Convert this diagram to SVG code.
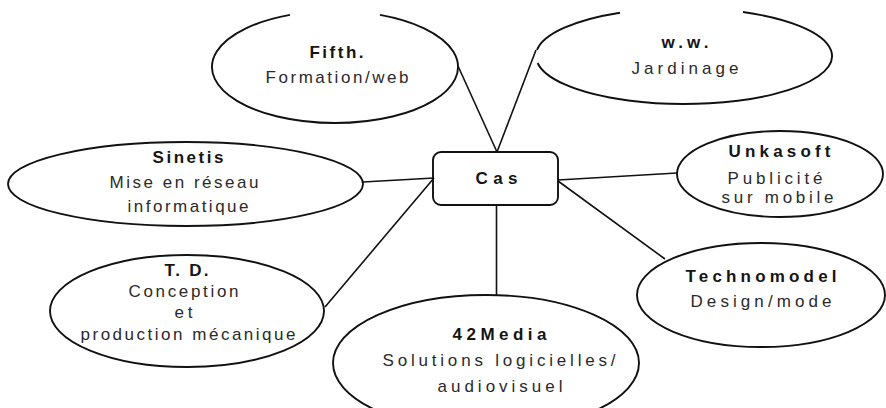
<svg xmlns="http://www.w3.org/2000/svg" width="886" height="408" viewBox="0 0 886 408">
<style>
.shape{fill:none;stroke:#111;stroke-width:1.9}
.link{fill:none;stroke:#111;stroke-width:1.6}
text{font-family:"Liberation Sans",Arial,Helvetica,sans-serif;font-size:17px;text-anchor:middle}
.t{font-weight:bold;fill:#151515}
.d{fill:#2a2a2a}
</style>
<rect width="886" height="408" fill="#fff"/>
<g id="connectors">
<line class="link" x1="458" y1="66" x2="497" y2="152"/>
<line class="link" x1="536" y1="50" x2="497" y2="152"/>
<line class="link" x1="363" y1="182" x2="434" y2="178"/>
<line class="link" x1="325" y1="307" x2="434" y2="178"/>
<line class="link" x1="558" y1="180" x2="677" y2="173"/>
<line class="link" x1="558" y1="181" x2="665" y2="259"/>
<line class="link" x1="496.5" y1="205" x2="496.5" y2="296"/>
</g>
<g id="cas">
<rect class="shape" x="433" y="152" width="125" height="53" rx="8"/>
<text class="t" x="496.5" y="184" textLength="42" lengthAdjust="spacing">Cas</text>
</g>
<g id="fifth">
<path class="shape" d="M380,14.9 A123,56 0 1 1 290,14.9"/>
<text class="t" x="336.5" y="58" textLength="54" lengthAdjust="spacing">Fifth.</text>
<text class="d" x="337" y="83" textLength="143" lengthAdjust="spacing">Formation/web</text>
</g>
<g id="ww">
<path class="shape" d="M537.6,63 A148,48 0 1 0 743,12"/>
<path class="shape" d="M620,12.7 A148,48 0 0 0 537,50"/>
<text class="t" x="685" y="48" textLength="47" lengthAdjust="spacing">w.w.</text>
<text class="d" x="685" y="74" textLength="107" lengthAdjust="spacing">Jardinage</text>
</g>
<g id="sinetis">
<ellipse class="shape" cx="185.5" cy="184" rx="177.5" ry="42"/>
<text class="t" x="188" y="163" textLength="71" lengthAdjust="spacing">Sinetis</text>
<text class="d" x="184" y="188" textLength="149" lengthAdjust="spacing">Mise en réseau</text>
<text class="d" x="188" y="212" textLength="121" lengthAdjust="spacing">informatique</text>
</g>
<g id="unkasoft">
<ellipse class="shape" cx="780" cy="174" rx="103" ry="43"/>
<text class="t" x="779.5" y="157" textLength="102" lengthAdjust="spacing">Unkasoft</text>
<text class="d" x="775" y="184" textLength="95" lengthAdjust="spacing">Publicité</text>
<text class="d" x="777.5" y="203" textLength="112" lengthAdjust="spacing">sur mobile</text>
</g>
<g id="td">
<ellipse class="shape" cx="187" cy="311" rx="137" ry="56"/>
<text class="t" x="186.5" y="276" textLength="44" lengthAdjust="spacing">T. D.</text>
<text class="d" x="183.5" y="297" textLength="110" lengthAdjust="spacing">Conception</text>
<text class="d" x="183.5" y="318" textLength="18" lengthAdjust="spacing">et</text>
<text class="d" x="188" y="340" textLength="215" lengthAdjust="spacing">production mécanique</text>
</g>
<g id="technomodel">
<ellipse class="shape" cx="761" cy="295" rx="124" ry="52"/>
<text class="t" x="761" y="282" textLength="151" lengthAdjust="spacing">Technomodel</text>
<text class="d" x="761" y="307" textLength="141" lengthAdjust="spacing">Design/mode</text>
</g>
<g id="media42">
<ellipse class="shape" cx="486" cy="363" rx="153" ry="68"/>
<text class="t" x="499.5" y="340" textLength="94" lengthAdjust="spacing">42Media</text>
<text class="d" x="499" y="366" textLength="233" lengthAdjust="spacing">Solutions logicielles/</text>
<text class="d" x="500" y="392" textLength="125" lengthAdjust="spacing">audiovisuel</text>
</g>
</svg>
